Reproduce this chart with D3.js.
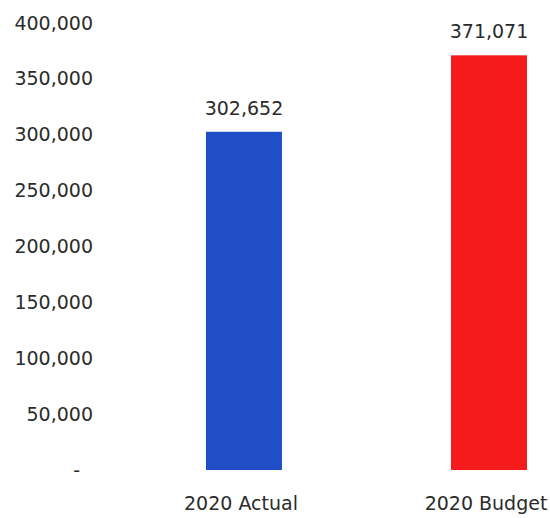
<!DOCTYPE html>
<html>
<head>
<meta charset="utf-8">
<script src="https://cdn.jsdelivr.net/npm/d3@7"></script>
<style>
  body { margin: 0; background: #fff; }
  text { font-family: "DejaVu Sans", sans-serif; fill: #2b2b2b; }
</style>
</head>
<body>
<div id="chart"></div>
<script>
// Data
var categories = ["2020 Actual", "2020 Budget"];
var values = [302652, 371071];
var barColors = ["#1f4ec6", "#f51a1c"];
var yTicks = [0, 50000, 100000, 150000, 200000, 250000, 300000, 350000, 400000];

var svgWidth = 550;
var svgHeight = 518;

var svg = d3.select("#chart")
  .append("svg")
  .attr("width", svgWidth)
  .attr("height", svgHeight);

// Scales
var xScale = d3.scaleBand()
  .domain(categories)
  .range([206, 527])
  .paddingInner(0.69)
  .paddingOuter(0);

var yScale = d3.scaleLinear()
  .domain([0, 400000])
  .range([470, 23]);

// Y axis: labels only, no line or ticks
var fmt = d3.format(",");
var leftAxis = d3.axisLeft(yScale)
  .tickValues(yTicks)
  .tickSize(0)
  .tickPadding(0)
  .tickFormat(d => d === 0 ? "-" : fmt(d));

var yAxis = svg.append("g")
  .attr("transform", "translate(93, 0)")
  .call(leftAxis);

yAxis.select(".domain").remove();
yAxis.selectAll("text")
  .style("font-size", "19px")
  .attr("font-family", null)
  .attr("dx", d => d === 0 ? -13 : 0);

// Bars
var data = categories.map((c, i) => ({ name: c, value: values[i], color: barColors[i] }));

svg.selectAll("rect.bar")
  .data(data)
  .enter()
  .append("rect")
  .classed("bar", true)
  .attr("x", d => xScale(d.name))
  .attr("y", d => yScale(d.value))
  .attr("width", xScale.bandwidth())
  .attr("height", d => yScale(0) - yScale(d.value))
  .attr("fill", d => d.color);

// Value labels above bars
svg.selectAll("text.value")
  .data(data)
  .enter()
  .append("text")
  .classed("value", true)
  .attr("x", d => xScale(d.name) + xScale.bandwidth() / 2)
  .attr("y", d => yScale(d.value) - 17)
  .attr("text-anchor", "middle")
  .style("font-size", "19px")
  .text(d => fmt(d.value));

// Category labels
svg.selectAll("text.cat")
  .data(data)
  .enter()
  .append("text")
  .classed("cat", true)
  .attr("x", d => xScale(d.name) + xScale.bandwidth() / 2 - 3)
  .attr("y", 510)
  .attr("text-anchor", "middle")
  .style("font-size", "19px")
  .text(d => d.name);
</script>
</body>
</html>
